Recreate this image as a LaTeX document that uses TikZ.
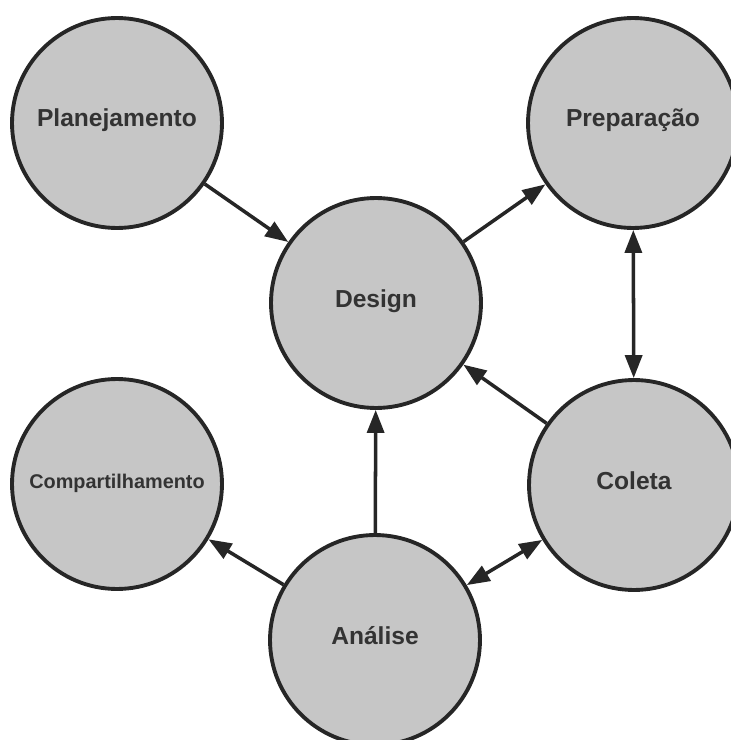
\documentclass[tikz,border=0pt]{standalone}
\usepackage{fontspec}
\setmainfont{Liberation Sans}
\usetikzlibrary{arrows.meta,positioning}

\definecolor{cinzafundo}{RGB}{198,198,198}
\definecolor{cinzatexto}{RGB}{51,51,51}

\begin{document}
\begin{tikzpicture}[x=0.02cm,y=-0.02cm,
        etapa/.style={shape=circle,draw=black!85,fill=cinzafundo,line width=2.2pt,minimum size=4.2cm,inner sep=0,align=center,text=cinzatexto,text height=0.4cm,text depth=0.24cm,font=\bfseries\fontsize{14}{16}\selectfont},
        seta/.style={draw=black!85,line width=2pt,-{Triangle[length=0.46cm,width=0.34cm]}},
        setadupla/.style={draw=black!85,line width=2pt,{Triangle[length=0.46cm,width=0.34cm]}-{Triangle[length=0.46cm,width=0.34cm]}},
        ]
\useasboundingbox (0,0) rectangle (730,740);

\node [etapa] (plan) at (117,123) {Planejamento};
\node [etapa] (prep) at (633,123) {Preparação};
\node [etapa] (design) at (376,303) {Design};
\node [etapa, font=\bfseries\fontsize{11.3}{13}\selectfont] (comp) at (117,484) {Compartilhamento};
\node [etapa] (coleta) at (634,485) {Coleta};
\node [etapa] (analise) at (375,640) {Análise};

    \path (plan) edge[seta] (design);
    \path (design) edge[seta] (prep);
    \path (prep) edge[setadupla] (coleta);
    \path (coleta) edge[seta] (design);

    \path (analise) edge[seta] (design);
    \path (analise) edge[seta] (comp);
    \path (analise) edge[setadupla] (coleta);

\end{tikzpicture}
\end{document}
